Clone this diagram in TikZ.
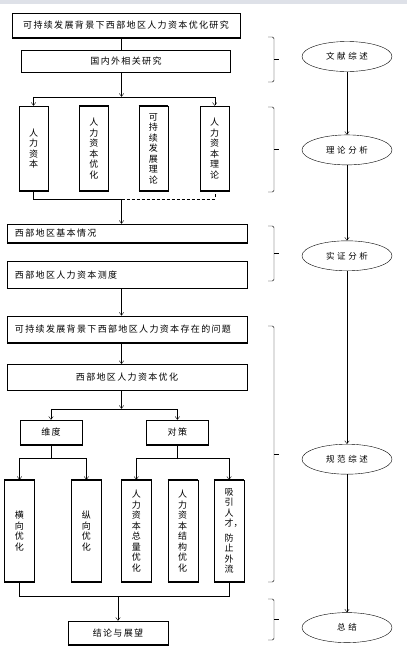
\documentclass[tikz,border=0pt]{standalone}
\usepackage{fontspec}
\setmainfont{Noto Sans CJK SC}
\newfontfamily\cjk[LetterSpace=15]{Noto Sans CJK SC}
\newfontfamily\cjkwide[LetterSpace=30]{Noto Sans CJK SC}
\usetikzlibrary{shapes, arrows.meta, positioning, calc}
\definecolor{band}{RGB}{222,225,232}

\begin{document}
\begin{tikzpicture}[x=1pt, y=1pt]
    \tikzset{
        box/.style = {rectangle, draw, thin, inner sep=0pt, font=\cjk\fontsize{9}{10.5}\selectfont},
        lbox/.style = {box, text width=224pt, inner xsep=8pt, align=left, minimum height=27pt},
        vbox/.style = {rectangle, draw, thin, inner sep=0pt, minimum width=29pt, align=center, font=\fontsize{9}{10.5}\selectfont},
        line/.style = {draw, thin, -{Straight Barb[length=3pt, width=4.5pt]}},
        joint/.style = {draw, thin},
        topic/.style = {ellipse, draw, thin, minimum width=90pt, minimum height=30pt, inner sep=0pt, font=\cjkwide\fontsize{8.5}{10}\selectfont},
    }

    \useasboundingbox (0,0) rectangle (407,-654);
    \fill[band] (0,0) rectangle (407,-4);

    % main column
    \node[box, minimum width=228pt, minimum height=25pt](title) at (126,-25.5){可持续发展背景下西部地区人力资本优化研究};

    \node[box, minimum width=209pt, minimum height=22pt](related)[below = 12pt of title]{国内外相关研究};

    \node[vbox, minimum height=85pt](hc) at (33.5,-148.5){人\\力\\资\\本};
    \node[vbox, minimum height=85pt](hcopt)[right = 31pt of hc]{人\\力\\资\\本\\优\\化};
    \node[vbox, minimum height=85pt](sd)[right = 30pt of hcopt]{可\\持\\续\\发\\展\\理\\论};
    \node[vbox, minimum height=85pt](hct)[right = 32pt of sd]{人\\力\\资\\本\\理\\论};

    \node[lbox, minimum height=19pt](basic) at (127,-233.5){西部地区基本情况};
    \node[lbox](measure)[below = 18pt of basic]{西部地区人力资本测度};
    \node[lbox](problem)[below = 27pt of measure]{可持续发展背景下西部地区人力资本存在的问题};
    \node[box, minimum width=240pt, minimum height=26pt](optim)[below = 21pt of problem]{西部地区人力资本优化};

    \node[box, minimum width=62pt, minimum height=25pt](dim) at (51,-432.5){维度};
    \node[box, minimum width=62pt, minimum height=25pt](plan)[right = 64pt of dim]{对策};

    \node[vbox, minimum width=30pt, minimum height=102pt](hor) at (19.5,-531){横\\向\\优\\化};
    \node[vbox, minimum width=30pt, minimum height=102pt](ver)[right = 36.5pt of hor]{纵\\向\\优\\化};
    \node[vbox, minimum width=30pt, minimum height=102pt](total)[right = 19.5pt of ver]{人\\力\\资\\本\\总\\量\\优\\化};
    \node[vbox, minimum width=30pt, minimum height=102pt](struct)[right = 16pt of total]{人\\力\\资\\本\\结\\构\\优\\化};
    \node[vbox, minimum width=30pt, minimum height=102pt](attract)[right = 16pt of struct]{吸\\引\\人\\才\rlap{，}\\[4pt]防\\止\\外\\流};

    \node[box, minimum width=100pt, minimum height=24pt](concl) at (118,-633){结论与展望};

    % heavy lower (and upper) edges
    \foreach \n in {title, related, hc, hcopt, sd, hct, basic, measure, problem, optim, dim, plan, hor, ver, total, struct, attract, concl}
        \draw[line width=1.5pt] (\n.south west) -- (\n.south east);
    \foreach \n in {hcopt, sd, hor, ver, total, struct, attract}
        \draw[line width=1.5pt] (\n.north west) -- (\n.north east);

    % connectors
    \coordinate (spine) at (121.5,0);
    \path [joint] (title.south -| spine) -- (related.north -| spine);
    \coordinate (fork1) at ($(hc.north)+(0,9)$);
    \path [line] (related.south -| spine) -- (fork1 -| spine);
    \path [line] (fork1) -- (hc.north);
    \path [line] (fork1) -| (hct.north);
    \coordinate (join1) at ($(hc.south)+(0,-8)$);
    \path [joint] (hc.south) -- (join1) -- (join1 -| spine);
    \path [joint, densely dashed] (join1 -| spine) -| (hct.south);
    \path [line] (join1 -| spine) -- (basic.north -| spine);
    \path [line] (measure.south -| spine) -- (problem.north -| spine);
    \path [line] (problem.south -| spine) -- (optim.north -| spine);
    \coordinate (fork2) at ($(dim.north)+(0,11)$);
    \path [line] (optim.south -| spine) -- (fork2 -| spine);
    \path [line] (fork2) -- (dim.north);
    \path [line] (fork2) -| (plan.north);
    \coordinate (fork3) at ($(hor.north)+(0,22)$);
    \path [joint] (dim.south) -- (dim.south |- fork3);
    \path [line] (fork3 -| hor) -- (hor.north);
    \path [line] (fork3 -| hor) -| (ver.north);
    \path [joint] (plan.south) -- (plan.south |- fork3);
    \path [line] (fork3 -| total) -- (total.north);
    \path [line] (fork3 -| total) -| (attract.north);
    \coordinate (join2) at ($(hor.south)+(0,-14)$);
    \path [joint] (hor.south) -- (join2) -| (attract.south);
    \path [line] (join2 -| concl) -- (concl.north);

    % right column
    \node[topic](review) at (347,-56.5){文献综述};
    \node[topic](theory)[below = 63pt of review]{理论分析};
    \node[topic](empiric)[below = 75.5pt of theory]{实证分析};
    \node[topic](norm)[below = 173pt of empiric]{规范综述};
    \node[topic](summary)[below = 138pt of norm]{总结};
    \foreach \a/\b in {review/theory, theory/empiric, empiric/norm, norm/summary}
        \path [line] (\a) -- (\b);

    % brackets
    \foreach \t/\b in {37/82, 107/192, 226/281, 326/582, 599/640}{
        \draw[thin, rounded corners=1.5pt] (268,-\t) -- (274,-\t) -- (274,-\b) -- (268,-\b);
        \draw[thin] (274,{-(\t+\b)/2}) -- (279,{-(\t+\b)/2});
    }

\end{tikzpicture}
\end{document}
